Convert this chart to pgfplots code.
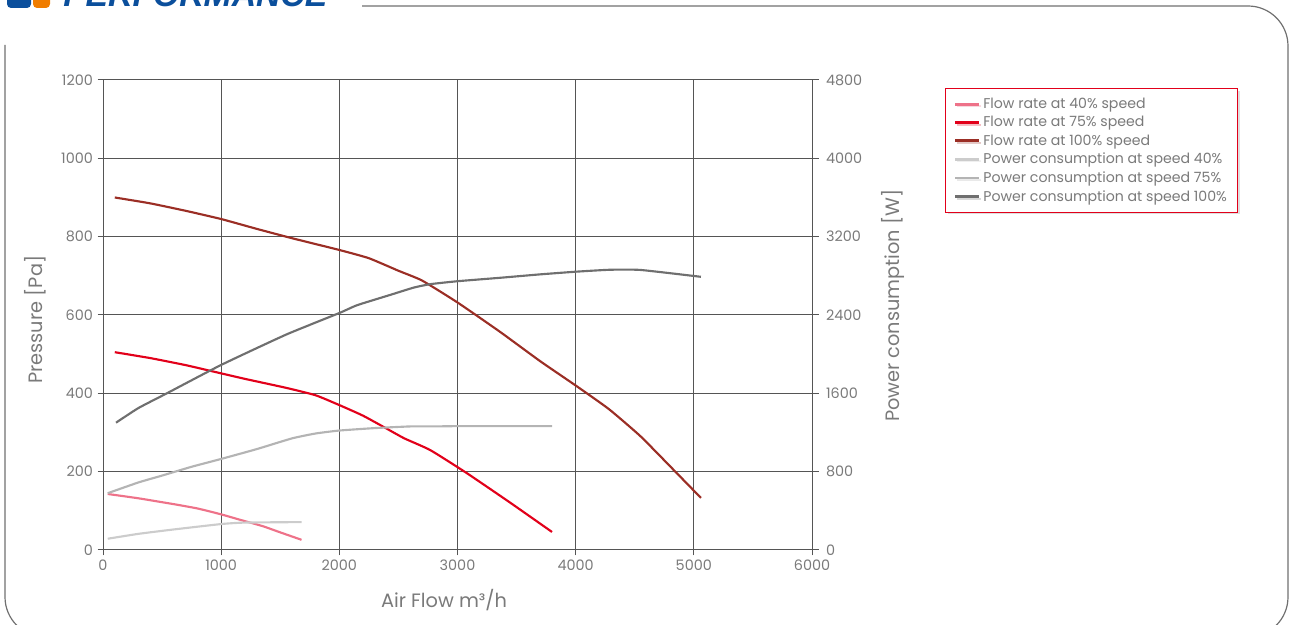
\documentclass[border=0pt]{standalone}
\usepackage{pgfplots}
\pgfplotsset{compat=1.18}
\usepackage{fontspec}
\setmainfont{Poppins}
\newfontfamily\headfont{Liberation Sans}
\usetikzlibrary{shadows}
\definecolor{flowA}{HTML}{EE7289}
\definecolor{flowB}{HTML}{E2001A}
\definecolor{flowC}{HTML}{9B2E25}
\definecolor{powA}{HTML}{CCCCCC}
\definecolor{powB}{HTML}{B4B4B4}
\definecolor{powC}{HTML}{6F6F6F}
\definecolor{gridc}{HTML}{555555}
\definecolor{labc}{HTML}{7A7A7A}
\definecolor{frame}{HTML}{707070}
\definecolor{hblue}{HTML}{0B4F9C}
\definecolor{horange}{HTML}{F07D00}
\begin{document}
\begin{tikzpicture}[x=0.75pt,y=0.75pt]
\useasboundingbox (0,0) rectangle (1290,625);
\begin{scope}
\clip (0,0) rectangle (1290,625);
\fill[hblue, rounded corners=3pt] (7,617) rectangle (31,650);
\fill[horange, rounded corners=3pt] (33,617) rectangle (50,650);
\node[anchor=base west, inner sep=0pt, text=hblue] at (63,618) {\resizebox{198pt}{!}{\headfont\bfseries\itshape PERFORMANCE}};
\draw[frame, line width=0.9pt, rounded corners=30pt] (362,619) -- (1288,619) -- (1288,-12) -- (1200,-12);
\draw[frame, line width=0.9pt, rounded corners=30pt] (5,580) -- (5,-12) -- (100,-12);
\end{scope}

\begin{axis}[
  at={(77.25pt,56.25pt)}, anchor=south west, scale only axis,
  width=531.75pt, height=352.5pt,
  xmin=0, xmax=6000, ymin=0, ymax=1200,
  xtick={0,1000,...,6000}, ytick={0,200,...,1200},
  grid=major, grid style={gridc, line width=0.75pt},
  axis line style={gridc, line width=0.75pt},
  tick style={gridc, line width=0.75pt},
  tick align=outside, major tick length=4pt,
  xtick pos=bottom, ytick pos=left,
  ticklabel style={font=\fontsize{10.8}{12}\selectfont, text=labc},
  /pgf/number format/assume math mode=true,
  /pgf/number format/set thousands separator={},
  xlabel={Air Flow m³/h},
  ylabel={Pressure [Pa]},
  label style={font=\fontsize{14.5}{16}\selectfont, text=labc},
  xlabel style={at={(axis description cs:0.481,-0.106)}, anchor=center},
  ylabel style={at={(axis description cs:-0.096,0.49)}, anchor=center},
  every axis plot/.append style={line width=1.6pt, smooth, tension=0.3},
]
\addplot[flowA] coordinates {(40,143) (300,132) (600,117) (800,106) (1000,91) (1150,78) (1350,61) (1500,45) (1680,26)};
\addplot[flowB] coordinates {(100,505) (400,490) (700,472) (900,458) (1200,437) (1550,414) (1800,395) (2000,370) (2200,343) (2400,310) (2550,285) (2770,255) (3080,196) (3450,120) (3800,46)};
\addplot[flowC] coordinates {(100,900) (400,885) (700,866) (1000,845) (1300,820) (1600,796) (2000,766) (2250,745) (2500,713) (2700,688) (3000,632) (3360,557) (3700,482) (4000,420) (4280,360) (4550,290) (4850,198) (5060,133)};
\end{axis}

\begin{axis}[
  at={(77.25pt,56.25pt)}, anchor=south west, scale only axis,
  width=531.75pt, height=352.5pt,
  xmin=0, xmax=6000, ymin=0, ymax=4800,
  ytick={0,800,...,4800}, xtick=\empty,
  axis y line*=right, axis x line*=bottom,
  y axis line style={gridc, line width=0.75pt},
  x axis line style={draw=none},
  tick style={gridc, line width=0.75pt},
  tick align=outside, major tick length=5pt,
  yticklabel style={font=\fontsize{10.8}{12}\selectfont, text=labc, xshift=2pt},
  /pgf/number format/assume math mode=true,
  /pgf/number format/set thousands separator={},
  ylabel={Power consumption [W]},
  label style={font=\fontsize{14.5}{16}\selectfont, text=labc},
  ylabel style={at={(axis description cs:1.114,0.52)}, anchor=center, rotate=0},
  every axis plot/.append style={line width=1.6pt, smooth, tension=0.3},
  legend style={at={(axis description cs:1.1876,0.983)}, anchor=north west,
    draw=flowB, line width=1.1pt, fill=white, drop shadow={opacity=0.25, shadow xshift=1.5pt, shadow yshift=-1.5pt},
    font=\fontsize{10.6}{12.5}\selectfont, text=labc, cells={anchor=west},
    row sep=0.4pt, inner xsep=6pt, inner ysep=5pt},
  legend image code/.code={\draw[#1, line width=2.2pt] (0pt,0pt) -- (18pt,0pt);},
]
\addlegendimage{flowA}
\addlegendentry{Flow rate at 40\% speed}
\addlegendimage{flowB}
\addlegendentry{Flow rate at 75\% speed}
\addlegendimage{flowC}
\addlegendentry{Flow rate at 100\% speed}
\addplot[powA] coordinates {(40,115) (300,165) (600,210) (1000,265) (1200,280) (1680,285)};
\addlegendentry{Power consumption at speed 40\%}
\addplot[powB] coordinates {(40,580) (300,690) (500,760) (750,850) (1000,930) (1300,1030) (1600,1140) (1800,1190) (2000,1220) (2300,1245) (2600,1262) (2800,1262) (3000,1265) (3400,1265) (3800,1265)};
\addlegendentry{Power consumption at speed 75\%}
\addplot[powC] coordinates {(110,1300) (300,1450) (540,1600) (1000,1890) (1550,2200) (2000,2420) (2150,2500) (2430,2605) (2630,2680) (2770,2715) (3000,2745) (3360,2780) (3700,2815) (4000,2842) (4290,2862) (4550,2860) (5060,2790)};
\addlegendentry{Power consumption at speed 100\%}
\end{axis}
\end{tikzpicture}
\end{document}
